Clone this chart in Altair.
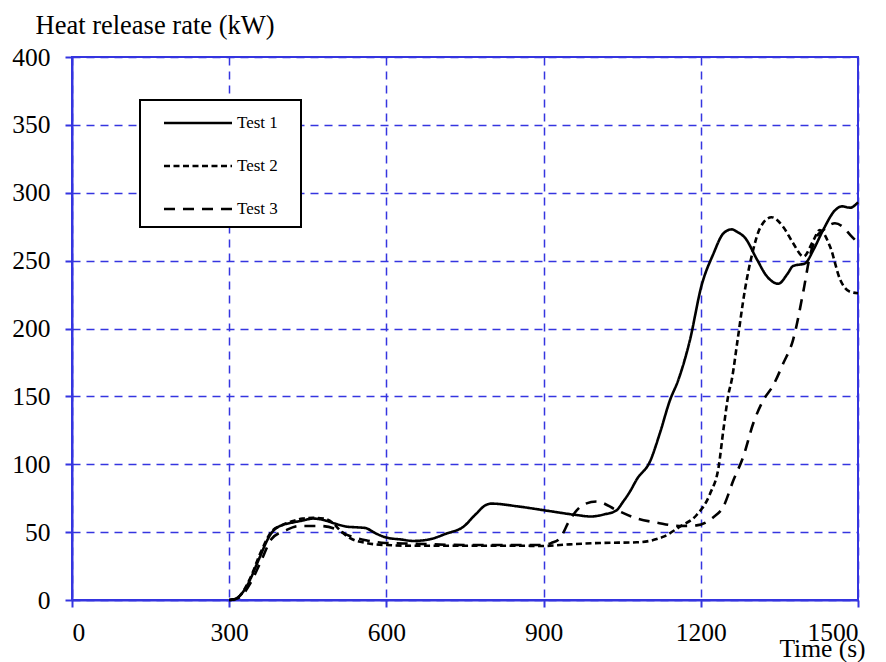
import altair as alt
import pandas as pd

# ---- data ----
t1 = [300, 310, 320, 330, 340, 350, 360, 370, 380, 390, 400, 420, 440, 460, 480, 500, 525, 545, 560, 580, 600,
      630, 650, 680, 715, 747, 770, 790, 800, 850, 906, 963, 990, 1015, 1039, 1051, 1065, 1078, 1103, 1122,
      1141, 1157, 1179, 1201, 1224, 1243, 1259, 1270, 1284, 1307, 1325, 1348, 1365, 1376, 1399, 1415, 1434,
      1456, 1469, 1485, 1500]
v1 = [0, 0.5, 3, 8, 15, 24, 33, 42, 49, 53, 55, 57, 58.5, 60, 59, 56.5, 54, 53.5, 53, 49, 46,
      44.5, 43.5, 44.5, 49, 54, 63, 70, 71, 69, 65.8, 62.6, 61.5, 63, 66, 72, 80, 89, 102, 123,
      147, 162, 191, 231, 255, 270, 273, 271, 267, 251, 239, 233, 240, 246, 248, 258, 273,
      287, 290, 289, 293]

t2 = [300, 310, 320, 340, 360, 380, 400, 420, 440, 460, 480, 500, 511, 529, 561, 598, 649, 700, 750, 800,
      850, 900, 950, 1008, 1078, 1129, 1160, 1192, 1218, 1234, 1243, 1253, 1259, 1270, 1284, 1300, 1313,
      1335, 1357, 1376, 1396, 1415, 1427, 1447, 1466, 1485, 1500]
v2 = [0, 0.5, 3, 16, 35, 50, 55, 58, 60, 60.5, 60, 56, 51.5, 46, 42, 40.5, 40, 40, 40, 40,
      40, 39.8, 41, 42, 42.5, 46.7, 54, 62.6, 78.6, 98, 125, 152, 162, 191, 228, 258, 274,
      282, 275, 263, 253, 265, 272.6, 260, 236, 227, 226]

t3 = [300, 320, 340, 360, 381, 409, 434, 473, 505, 525, 561, 598, 649, 751, 900, 915, 931, 950, 975, 1001,
      1039, 1078, 1116, 1160, 1192, 1224, 1243, 1262, 1281, 1300, 1319, 1338, 1357, 1376, 1396, 1408,
      1421, 1434, 1456, 1472, 1485, 1500]
v3 = [0, 2, 12, 28, 45, 51.5, 54.5, 54.5, 52, 48, 44, 42, 41.5, 40.5, 40.5, 42, 45.4, 59, 70, 72.6,
      66.3, 60, 57, 54.5, 55, 61, 68.7, 88, 105.5, 130, 147, 158, 174, 191.5, 228, 253,
      267.6, 272.6, 277.5, 274.6, 269, 263]

series = ["Test 1", "Test 2", "Test 3"]
x_ticks = [0, 300, 600, 900, 1200, 1500]
y_ticks = [0, 50, 100, 150, 200, 250, 300, 350, 400]

rows = []
for name, ts, vs in zip(series, [t1, t2, t3], [v1, v2, v3]):
    for i, (t, v) in enumerate(zip(ts, vs)):
        rows.append({"series": name, "time": t, "hrr": v, "order": i})
df = pd.DataFrame(rows)

BLUE = "#3535e0"
FONT = "Liberation Serif"

chart = alt.Chart(df).mark_line(
    color="black", strokeWidth=2.6, interpolate="monotone"
).encode(
    x=alt.X("time:Q",
            scale=alt.Scale(domain=[0, 1500], nice=False, zero=False),
            axis=alt.Axis(values=x_ticks, format="d", title="Time (s)", titleX=750, titleY=56,
                          titleBaseline="alphabetic", titleAlign="center",
                          labelPadding=13)),
    y=alt.Y("hrr:Q",
            scale=alt.Scale(domain=[0, 400], nice=False),
            axis=alt.Axis(values=y_ticks, format="d", title="Heat release rate (kW)", titleAngle=0,
                          titleX=-37, titleY=-24, titleAlign="left",
                          titleBaseline="alphabetic", labelPadding=15, titleFontSize=26.5)),
    strokeDash=alt.StrokeDash(
        "series:N",
        scale=alt.Scale(domain=series, range=[[1, 0], [6, 3.5], [11, 8]]),
        legend=alt.Legend(
            title=None, orient="none", legendX=68, legendY=43,
            symbolType="M-3,0L3,0M7.7,0", symbolSize=514, symbolStrokeWidth=2.6,
            symbolStrokeColor="black", symbolOffset=35, labelOffset=26,
            rowPadding=22, padding=10, strokeColor="black", fillColor="white",
            labelFont=FONT, labelFontSize=17, labelColor="black", cornerRadius=0,
        ),
    ),
    detail="series:N",
    order="order:Q",
).properties(
    width=786, height=543,
    background="white",
    autosize=alt.AutoSizeParams(type="none"),
    padding={"left": 72, "top": 57, "right": 28, "bottom": 62},
).configure_view(
    stroke=BLUE, strokeWidth=2
).configure_legend(
    strokeWidth=2
).configure_axis(
    domainColor=BLUE, domainWidth=2, tickColor=BLUE, tickWidth=2, tickSize=7,
    gridColor=BLUE, gridDash=[8, 6], gridWidth=1.5, gridOpacity=1, grid=True,
    labelFont=FONT, labelFontSize=25.5, labelColor="black",
    titleFont=FONT, titleFontSize=25.5, titleColor="black", titleFontWeight="normal",
)

chart.save("out.html", embed_options={"renderer": "svg", "actions": False})
